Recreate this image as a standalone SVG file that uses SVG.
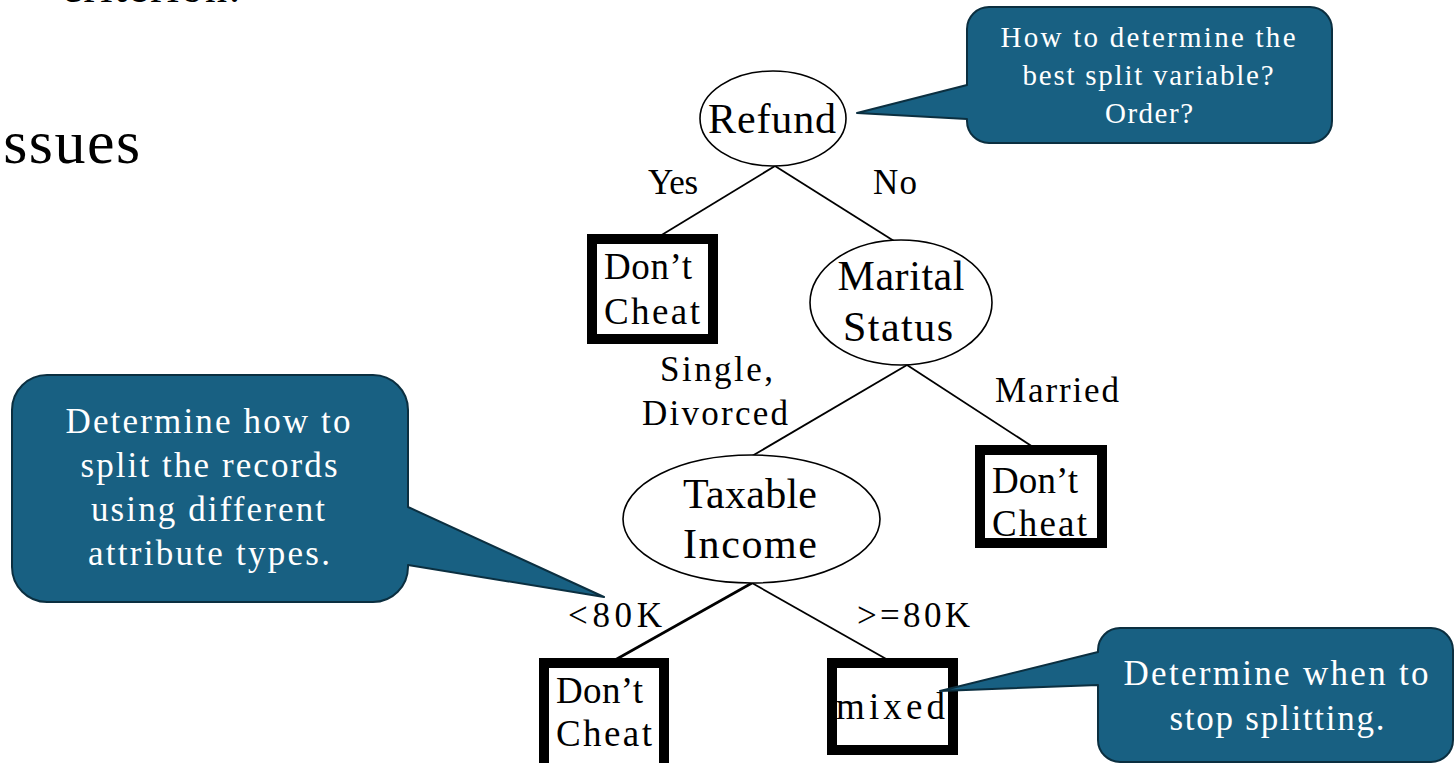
<svg xmlns="http://www.w3.org/2000/svg" width="1455" height="763" viewBox="0 0 1455 763">
  <style>
    text { font-family: "Liberation Serif", "Times New Roman", serif; fill: #000; }
    .slide { font-size: 62px; }
    .node { font-size: 42px; text-anchor: middle; }
    .leaf-text { font-size: 37px; }
    .edge-label { font-size: 35px; }
    .split { fill: #fff; stroke: #000; stroke-width: 1.6; }
    .leaf { fill: #fff; stroke: #000; stroke-width: 10; }
    .edge { stroke: #000; stroke-width: 1.8; fill: none; }
    .callout { fill: #186082; stroke: #0b2f40; stroke-width: 2; stroke-linejoin: round; }
    .callout-text { fill: #fff; font-size: 35px; text-anchor: middle; }
    .callout-text.small { font-size: 29px; }
  </style>

  <rect width="1455" height="763" fill="#fff"/>

  <!-- slide body text, clipped by the frame -->
  <text class="slide" x="62" y="2" style="font-size:44px" textLength="178" lengthAdjust="spacing">criterion.</text>
  <text class="slide" x="-19" y="163" letter-spacing="1.5">Issues</text>

  <!-- connectors -->
  <g id="connectors">
    <line class="edge" x1="775" y1="166" x2="660" y2="236"/>
    <line class="edge" x1="775" y1="166" x2="894" y2="241"/>
    <line class="edge" x1="907" y1="365" x2="752" y2="456"/>
    <line class="edge" x1="907" y1="365" x2="1033" y2="447"/>
    <line class="edge" x1="752" y1="583" x2="615" y2="660" style="stroke-width:2.6"/>
    <line class="edge" x1="752" y1="583" x2="888" y2="660"/>
    <text class="edge-label" x="648" y="194" textLength="50" lengthAdjust="spacing">Yes</text>
    <text class="edge-label" x="873" y="194" textLength="44" lengthAdjust="spacing">No</text>
    <text class="edge-label" x="660" y="381" textLength="113" lengthAdjust="spacing">Single,</text>
    <text class="edge-label" x="642" y="425" textLength="146" lengthAdjust="spacing">Divorced</text>
    <text class="edge-label" x="995" y="402" textLength="124" lengthAdjust="spacing">Married</text>
    <text class="edge-label" x="568" y="627" textLength="94" lengthAdjust="spacing">&lt;80K</text>
    <text class="edge-label" x="857" y="627" textLength="113" lengthAdjust="spacing">&gt;=80K</text>
  </g>

  <!-- split nodes -->
  <g id="refund">
    <ellipse class="split" cx="773" cy="118.5" rx="73" ry="47.5"/>
    <text class="node" x="772" y="133" textLength="128" lengthAdjust="spacing">Refund</text>
  </g>
  <g id="marital-status">
    <ellipse class="split" cx="901" cy="302.5" rx="91" ry="62.5"/>
    <text class="node" x="901" y="290" textLength="127" lengthAdjust="spacing">Marital</text>
    <text class="node" x="898" y="341" textLength="110" lengthAdjust="spacing">Status</text>
  </g>
  <g id="taxable-income">
    <ellipse class="split" cx="751.5" cy="519" rx="128.5" ry="64"/>
    <text class="node" x="750" y="508" textLength="134" lengthAdjust="spacing">Taxable</text>
    <text class="node" x="750" y="558" textLength="134" lengthAdjust="spacing">Income</text>
  </g>

  <!-- leaf nodes -->
  <g id="leaf-refund-yes">
    <rect class="leaf" x="592" y="239" width="121" height="100"/>
    <text class="leaf-text" x="604" y="279" textLength="88" lengthAdjust="spacing">Don’t</text>
    <text class="leaf-text" x="604" y="324" textLength="96" lengthAdjust="spacing">Cheat</text>
  </g>
  <g id="leaf-married">
    <rect class="leaf" x="980" y="450" width="122" height="93"/>
    <text class="leaf-text" x="992" y="493" textLength="86" lengthAdjust="spacing">Don’t</text>
    <text class="leaf-text" x="992" y="536" textLength="95" lengthAdjust="spacing">Cheat</text>
  </g>
  <g id="leaf-low-income">
    <rect class="leaf" x="544" y="663" width="120" height="106"/>
    <text class="leaf-text" x="556" y="703" textLength="87" lengthAdjust="spacing">Don’t</text>
    <text class="leaf-text" x="556" y="746" textLength="96" lengthAdjust="spacing">Cheat</text>
  </g>
  <g id="leaf-high-income">
    <rect class="leaf" x="832" y="663" width="121" height="87"/>
    <text class="leaf-text" x="836" y="719" textLength="109" lengthAdjust="spacing">mixed</text>
  </g>

  <!-- callouts -->
  <g id="callout-split-variable">
    <path class="callout" d="M 989,7 H 1310 A 22 22 0 0 1 1332,29 V 121 A 22 22 0 0 1 1310,143 H 989 A 22 22 0 0 1 967,121 V 119 L 857,113 L 967,85 V 29 A 22 22 0 0 1 989,7 Z"/>
    <text class="callout-text small" x="1148" y="47" textLength="295" lengthAdjust="spacing">How to determine the</text>
    <text class="callout-text small" x="1148" y="85" textLength="251" lengthAdjust="spacing">best split variable?</text>
    <text class="callout-text small" x="1149" y="123" textLength="88" lengthAdjust="spacing">Order?</text>
  </g>
  <g id="callout-attribute-types">
    <path class="callout" d="M 47,375 H 373 A 35 35 0 0 1 408,410 V 507 L 604,597 L 408,565 V 567 A 35 35 0 0 1 373,602 H 47 A 35 35 0 0 1 12,567 V 410 A 35 35 0 0 1 47,375 Z"/>
    <text class="callout-text" x="208" y="433" textLength="285" lengthAdjust="spacing">Determine how to</text>
    <text class="callout-text" x="209" y="477" textLength="257" lengthAdjust="spacing">split the records</text>
    <text class="callout-text" x="208" y="521" textLength="234" lengthAdjust="spacing">using different</text>
    <text class="callout-text" x="209" y="565" textLength="242" lengthAdjust="spacing">attribute types.</text>
  </g>
  <g id="callout-stop-splitting">
    <path class="callout" d="M 1120,628 H 1431 A 22 22 0 0 1 1453,650 V 740 A 22 22 0 0 1 1431,762 H 1120 A 22 22 0 0 1 1098,740 V 685 L 940,691 L 1098,652 V 650 A 22 22 0 0 1 1120,628 Z"/>
    <text class="callout-text" x="1276" y="685" textLength="305" lengthAdjust="spacing">Determine when to</text>
    <text class="callout-text" x="1277" y="730" textLength="215" lengthAdjust="spacing">stop splitting.</text>
  </g>
</svg>
